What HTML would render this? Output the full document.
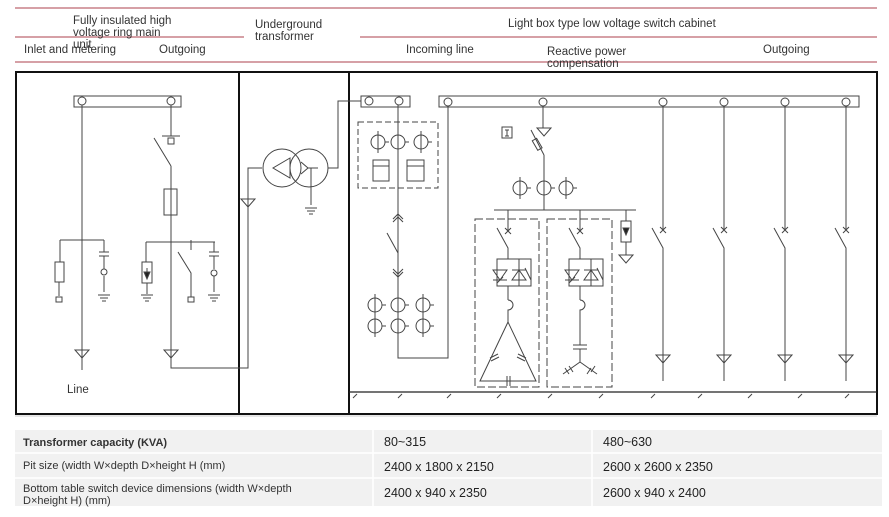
<!DOCTYPE html>
<html><head><meta charset="utf-8"><style>
html,body{margin:0;padding:0;background:#fff;width:889px;height:517px;overflow:hidden;font-family:"Liberation Sans",sans-serif}
svg{position:absolute;left:0;top:0}
</style></head><body>
<svg width="889" height="517" viewBox="0 0 889 517" xmlns="http://www.w3.org/2000/svg">
<defs>
<g id="tri"><path d="M-7,0 H7 L0,8 Z" fill="none" stroke="#444" stroke-width="1"/></g>
<g id="gnd"><path d="M-6,0H6M-4,3H4M-2,6H2" stroke="#444" stroke-width="1"/></g>
<g id="cph"><circle r="7" fill="none" stroke="#444"/><path d="M0,-11V11M7,0H11" stroke="#444"/></g>
</defs>
<!-- header red lines -->
<g stroke="#c98088" stroke-width="1.5">
<line x1="15" y1="8" x2="877" y2="8"/>
<line x1="15" y1="37" x2="244" y2="37"/>
<line x1="360" y1="37" x2="877" y2="37"/>
<line x1="15" y1="62" x2="877" y2="62"/>
</g>
<g font-size="11.5" fill="#333">
<text x="73" y="24">Fully insulated high</text>
<text x="73" y="36">voltage ring main</text>
<text x="73" y="48">unit</text>
<text x="24" y="53">Inlet and metering</text>
<text x="159" y="53">Outgoing</text>
<text x="255" y="28">Underground</text>
<text x="255" y="40">transformer</text>
<text x="508" y="27">Light box type low voltage switch cabinet</text>
<text x="406" y="53">Incoming line</text>
<text x="547" y="55">Reactive power</text>
<text x="547" y="67">compensation</text>
<text x="763" y="53">Outgoing</text>
<text x="67" y="393">Line</text>
</g>
<!-- frames -->
<g fill="none" stroke="#111" stroke-width="2">
<rect x="16" y="72" width="861" height="342"/>
<line x1="239" y1="72" x2="239" y2="414"/>
<line x1="349" y1="72" x2="349" y2="414"/>
</g>
<line x1="349" y1="392" x2="877" y2="392" stroke="#222" stroke-width="1.2"/>
<g stroke="#444" stroke-width="1">
<path d="M353,398l4,-4M398,398l4,-4M447,398l4,-4M497,398l4,-4M548,398l4,-4M599,398l4,-4M651,398l4,-4M698,398l4,-4M748,398l4,-4M798,398l4,-4M845,398l4,-4"/>
</g>
<g fill="none" stroke="#444" stroke-width="1">
<!-- left cabinet -->
<rect x="74" y="96" width="107" height="11"/>
<circle cx="82" cy="101" r="4" fill="#fff"/><circle cx="171" cy="101" r="4" fill="#fff"/>
<line x1="82" y1="105" x2="82" y2="370"/>
<use href="#tri" x="82" y="350"/>
<path d="M60,240H104M60,240V262M59,282V296"/>
<rect x="55" y="262" width="9" height="20"/>
<rect x="56" y="297" width="6" height="5"/>
<path d="M104,240V252M99,252H109M99,256H109M104,256V269M104,276V292"/>
<circle cx="104" cy="272" r="3"/><use href="#gnd" x="104" y="295"/>
<path d="M171,105V136M162,136H180M154,138L171,166M171,166V360"/>
<rect x="168" y="138" width="6" height="6"/>
<rect x="164" y="189" width="13" height="26"/>
<path d="M146,242H215M146,242V262M147,283V294M191,240V250M178,252L191,273V297"/>
<rect x="142" y="262" width="10" height="21"/>
<path d="M147,268V278" /><path d="M144,272L147,279L150,272Z" fill="#222"/>
<use href="#gnd" x="147" y="295"/>
<rect x="188" y="297" width="6" height="5"/>
<path d="M214,242V252M209,252H219M209,256H219M214,256V269M214,276V292"/>
<circle cx="214" cy="273" r="3"/><use href="#gnd" x="214" y="295"/>
<use href="#tri" x="171" y="350"/>
<path d="M171,360V368H248V168H262"/>
<use href="#tri" x="248" y="199"/>
<!-- transformer -->
<circle cx="282" cy="168" r="19"/><circle cx="309" cy="168" r="19"/>
<path d="M290,158L273,168L290,178Z"/>
<path d="M301,162L308,168L301,174M308,168H318M311,168V205"/>
<use href="#gnd" x="311" y="208"/>
<path d="M328,168H338V101H361"/>
<!-- LV incoming -->
<rect x="361" y="96" width="49" height="11"/>
<circle cx="369" cy="101" r="4" fill="#fff"/><circle cx="399" cy="101" r="4" fill="#fff"/>
<rect x="439" y="96" width="420" height="11"/>
<path d="M398,105V358H448V105"/>
<rect x="358" y="122" width="80" height="66" stroke-dasharray="6,3"/>
<use href="#cph" x="378" y="142"/><use href="#cph" x="398" y="142"/><use href="#cph" x="421" y="142"/>
<rect x="373" y="160" width="16" height="21"/><line x1="373" y1="166" x2="389" y2="166"/>
<rect x="407" y="160" width="17" height="21"/><line x1="407" y1="166" x2="424" y2="166"/>
<path d="M393,219L398,214L403,219M393,222L398,217L403,222"/>
<path d="M387,233L398,253"/>
<path d="M393,269L398,274L403,269M393,272L398,277L403,272"/>
<use href="#cph" x="375" y="305"/><use href="#cph" x="398" y="305"/><use href="#cph" x="423" y="305"/>
<use href="#cph" x="375" y="326"/><use href="#cph" x="398" y="326"/><use href="#cph" x="423" y="326"/>
</g>
<g fill="#fff" stroke="#444">
<circle cx="448" cy="102" r="4"/><circle cx="543" cy="102" r="4"/><circle cx="663" cy="102" r="4"/>
<circle cx="724" cy="102" r="4"/><circle cx="785" cy="102" r="4"/><circle cx="846" cy="102" r="4"/>
</g>
<g fill="none" stroke="#444" stroke-width="1">
<!-- reactive -->
<path d="M543,106V128"/><use href="#tri" x="544" y="128"/>
<rect x="502" y="127" width="10" height="11"/><path d="M505,130H509M507,130V136M505,136H509"/>
<path d="M531,130L544,155" /><rect x="535" y="139" width="5" height="11" transform="rotate(-30 537 145)"/>
<path d="M544,155V210"/>
<use href="#cph" x="520" y="188"/><use href="#cph" x="544" y="188"/><use href="#cph" x="566" y="188"/>
<path d="M494,210H636M508,210V231M580,210V231M626,210V221M626,242V255"/>
<rect x="621" y="221" width="10" height="21"/><path d="M623,228L626,235L629,228Z" fill="#222"/>
<use href="#tri" x="626" y="255"/>
<rect x="475" y="219" width="64" height="168" stroke-dasharray="8,3"/>
<rect x="547" y="219" width="65" height="168" stroke-dasharray="8,3"/>
<g id="br">
<path d="M505,228l6,6M511,228l-6,6M497,228L508,248V259"/>
<rect x="497" y="259" width="22" height="27"/>
<path d="M508,259H531V286H508M525,268L531,280"/>
<path d="M493,270H507L500,280ZM493,280H507M497,283L503,277" />
<path d="M512,280H526L519,270ZM512,270H526"/>
<path d="M508,286V300M508,300A5,5 0 1 1 508,310V322"/>
</g>
<use href="#br" x="72" y="0"/>
<path d="M508,322L480,381H536Z"/>
<path d="M490,358l8,-4M491,361l8,-4M526,358l-8,-4M525,361l-8,-4M507,376V386M510,376V386"/>
<path d="M580,322V345M573,345H587M573,349H587M580,349V362L563,374M580,362L597,374M565,368l4,6M569,366l4,6M591,368l-4,6M595,366l-4,6"/>
<!-- outgoing -->
<g id="og"><path d="M663,106V230M660,227l6,6M666,227l-6,6M652,228L663,248V381"/><use href="#tri" x="663" y="355"/></g>
<use href="#og" x="61" y="0"/><use href="#og" x="122" y="0"/><use href="#og" x="183" y="0"/>
</g>
<!-- table -->
<line x1="15" y1="416" x2="877" y2="416" stroke="#ccc"/>
<rect x="15" y="430" width="867" height="76" fill="#f1f1f1"/>
<g stroke="#fff" stroke-width="1.5"><line x1="15" y1="453" x2="882" y2="453"/><line x1="15" y1="478" x2="882" y2="478"/><line x1="373" y1="430" x2="373" y2="506"/><line x1="592" y1="430" x2="592" y2="506"/></g>
<g font-size="11" fill="#333">
<text x="23" y="446" font-weight="bold">Transformer capacity (KVA)</text>
<text x="23" y="469">Pit size (width W×depth D×height H (mm)</text>
<text x="23" y="492">Bottom table switch device dimensions (width W×depth</text>
<text x="23" y="504">D×height H) (mm)</text>
</g>
<g font-size="12.5" fill="#222">
<text x="384" y="446">80~315</text><text x="603" y="446">480~630</text>
<text x="384" y="471">2400 x 1800 x 2150</text><text x="603" y="471">2600 x 2600 x 2350</text>
<text x="384" y="497">2400 x 940 x 2350</text><text x="603" y="497">2600 x 940 x 2400</text>
</g>
</svg>
</body></html>
